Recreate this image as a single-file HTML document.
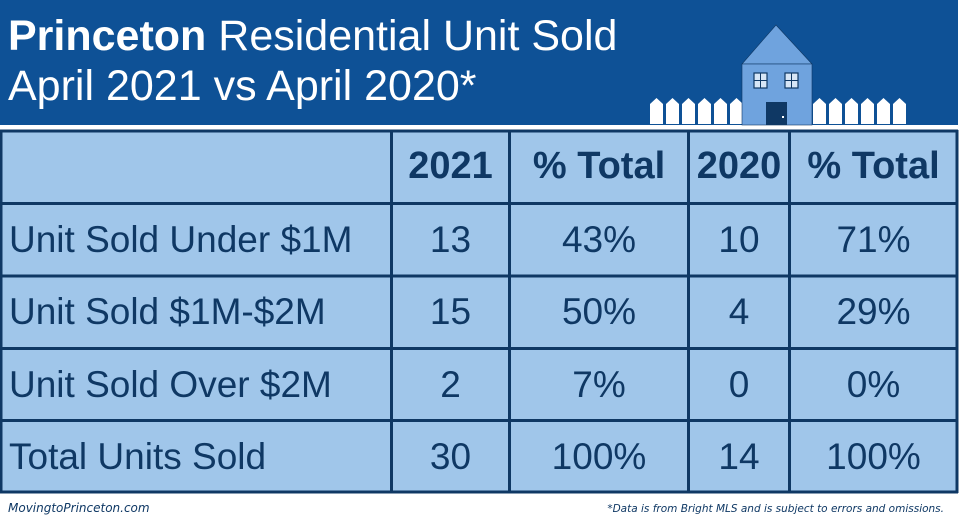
<!DOCTYPE html>
<html><head><style>
body{margin:0;width:960px;height:518px;overflow:hidden;background:#fff;font-family:"Liberation Sans",sans-serif;position:relative}
.hdr{position:absolute;left:0;top:0;width:958px;height:125px;background:#0e5196}
.t{position:absolute;color:#fff;font-size:43px;left:8px;white-space:nowrap;line-height:1}
.c{position:absolute;color:#0f3864;font-size:37px;text-align:center;white-space:nowrap;line-height:1}
.b{font-weight:bold;font-size:38px}
</style></head><body>
<div class="hdr"></div>
<div class="t" style="top:15px"><b>Princeton</b> Residential Unit Sold</div>
<div class="t" style="top:65px">April 2021 vs April 2020*</div>
<svg style="position:absolute;left:0;top:0" width="960" height="518">
 <g fill="#fff">
  <path d="M650 124V104l6.5-6 6.5 6v20z"/><path d="M666 124V104l6.5-6 6.5 6v20z"/><path d="M682 124V104l6.5-6 6.5 6v20z"/><path d="M698 124V104l6.5-6 6.5 6v20z"/><path d="M714 124V104l6.5-6 6.5 6v20z"/><path d="M730 124V104l6.5-6 6.5 6v20z"/>
  <path d="M813 124V104l6.5-6 6.5 6v20z"/><path d="M829 124V104l6.5-6 6.5 6v20z"/><path d="M845 124V104l6.5-6 6.5 6v20z"/><path d="M861 124V104l6.5-6 6.5 6v20z"/><path d="M877 124V104l6.5-6 6.5 6v20z"/><path d="M893 124V104l6.5-6 6.5 6v20z"/>
 </g>
 <path d="M742 64L776 25L812 64z" fill="#6fa3de" stroke="#0f3864" stroke-width="0.6"/>
 <rect x="742" y="64" width="70" height="61" fill="#6fa3de" stroke="#0f3864" stroke-width="0.6"/>
 <rect x="754" y="73" width="13" height="15" fill="#d7e6f6" stroke="#0f3864" stroke-width="1.2"/><path d="M760.5 73v15M754 80.5h13" stroke="#0f3864"/>
 <rect x="785" y="73" width="13" height="15" fill="#d7e6f6" stroke="#0f3864" stroke-width="1.2"/><path d="M791.5 73v15M785 80.5h13" stroke="#0f3864"/>
 <rect x="766" y="102" width="21" height="23" fill="#0f3864"/><rect x="782" y="116" width="2" height="2" fill="#fff"/>
 <rect x="1" y="130" width="956" height="362" fill="#a0c6ea"/>
 <g stroke="#0f3864" stroke-width="3">
  <path d="M0 131H958M0 203.5H958M0 276H958M0 348.5H958M0 420.5H958M0 492H958"/>
  <path d="M1 130V493M391.5 130V493M509.5 130V493M688.5 130V493M789.5 130V493M957 130V493"/>
 </g>
</svg>
<div class="c b" style="left:392px;width:117px;top:147px">2021</div>
<div class="c b" style="left:510px;width:178px;top:147px">% Total</div>
<div class="c b" style="left:689px;width:100px;top:147px">2020</div>
<div class="c b" style="left:790px;width:167px;top:147px">% Total</div>

<div class="c" style="left:9px;top:221px">Unit Sold Under $1M</div>
<div class="c" style="left:392px;width:117px;top:221px">13</div>
<div class="c" style="left:510px;width:178px;top:221px">43%</div>
<div class="c" style="left:689px;width:100px;top:221px">10</div>
<div class="c" style="left:790px;width:167px;top:221px">71%</div>

<div class="c" style="left:9px;top:293px">Unit Sold $1M-$2M</div>
<div class="c" style="left:392px;width:117px;top:293px">15</div>
<div class="c" style="left:510px;width:178px;top:293px">50%</div>
<div class="c" style="left:689px;width:100px;top:293px">4</div>
<div class="c" style="left:790px;width:167px;top:293px">29%</div>

<div class="c" style="left:9px;top:366px">Unit Sold Over $2M</div>
<div class="c" style="left:392px;width:117px;top:366px">2</div>
<div class="c" style="left:510px;width:178px;top:366px">7%</div>
<div class="c" style="left:689px;width:100px;top:366px">0</div>
<div class="c" style="left:790px;width:167px;top:366px">0%</div>

<div class="c" style="left:9px;top:438px">Total Units Sold</div>
<div class="c" style="left:392px;width:117px;top:438px">30</div>
<div class="c" style="left:510px;width:178px;top:438px">100%</div>
<div class="c" style="left:689px;width:100px;top:438px">14</div>
<div class="c" style="left:790px;width:167px;top:438px">100%</div>

<div style="position:absolute;left:8px;top:501px;font-size:12px;font-style:italic;color:#0f3864;font-family:'DejaVu Sans',sans-serif">MovingtoPrinceton.com</div>
<div style="position:absolute;right:16px;top:503px;font-size:10.5px;font-style:italic;color:#0f3864;font-family:'DejaVu Sans',sans-serif">*Data is from Bright MLS and is subject to errors and omissions.</div>
</body></html>
